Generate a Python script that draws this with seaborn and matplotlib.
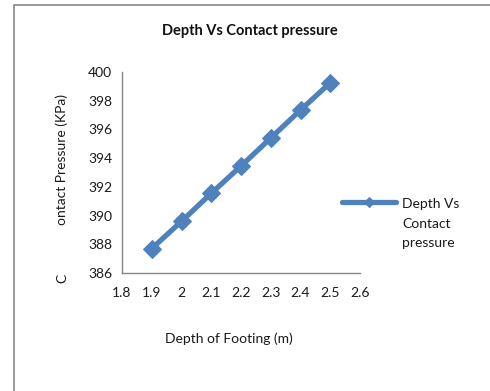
import matplotlib
matplotlib.use("Agg")
import matplotlib.pyplot as plt
import seaborn as sns
import pandas as pd
from matplotlib.legend_handler import HandlerLine2D
from matplotlib.patches import Rectangle

depth = [1.9, 2.0, 2.1, 2.2, 2.3, 2.4, 2.5]
pressure = [387.7, 389.6, 391.55, 393.45, 395.4, 397.35, 399.25]
x_ticks = [1.8, 1.9, 2.0, 2.1, 2.2, 2.3, 2.4, 2.5, 2.6]
x_tick_labels = ["1.8", "1.9", "2", "2.1", "2.2", "2.3", "2.4", "2.5", "2.6"]
y_ticks = [386, 388, 390, 392, 394, 396, 398, 400]

sns.set_style("white")
plt.rcParams['font.family'] = ['Lato', 'DejaVu Sans']

df = pd.DataFrame({"Depth": depth, "Pressure": pressure})

fig = plt.figure(figsize=(4.9, 3.91), dpi=100)
W, H = 490, 391
ax = fig.add_axes([122 / W, 1 - 273 / H, (360 - 122) / W, (273 - 72) / H])

color = "#4F81BD"
sns.lineplot(data=df, x="Depth", y="Pressure", ax=ax, color=color, lw=3.8,
             marker="D", markersize=9.5, markeredgecolor=color,
             label="Depth Vs\nContact\npressure", legend=False)

ax.set_xlim(1.8, 2.6)
ax.set_ylim(386, 400)
ax.set_xticks(x_ticks)
ax.set_xticklabels(x_tick_labels)
ax.set_yticks(y_ticks)
ax.set_xlabel("")
ax.set_ylabel("")
for s in ["top", "right"]:
    ax.spines[s].set_visible(False)
for s in ["left", "bottom"]:
    ax.spines[s].set_color("#868686")
    ax.spines[s].set_linewidth(1.0)
ax.tick_params(axis="both", which="major", direction="out", length=4, width=1,
               color="#868686", labelsize=10, labelcolor="#1a1a1a", pad=3)
ax.tick_params(axis="x", pad=6)

fs = 10
# Title and labels
fig.text(250 / W, 1 - 31 / H, "Depth Vs Contact pressure", ha="center", va="center",
         fontsize=10.5, fontweight="bold", color="#111111")
fig.text(229 / W, 1 - 339 / H, "Depth of Footing (m)", ha="center", va="center",
         fontsize=fs, color="#1a1a1a")
fig.text(62 / W, 1 - 160 / H, "ontact Pressure (KPa)", ha="center", va="center",
         rotation=90, fontsize=fs, color="#1a1a1a")
fig.text(62 / W, 1 - 278 / H, "C", ha="center", va="center",
         rotation=90, fontsize=fs, color="#1a1a1a")


class TopHandler(HandlerLine2D):
    def create_artists(self, legend, orig_handle, xdescent, ydescent,
                       width, height, fontsize, trans):
        arts = super().create_artists(legend, orig_handle, xdescent,
                                      ydescent - 31, width, height, fontsize, trans)
        return arts


handles, labels = ax.get_legend_handles_labels()
leg = fig.legend(handles, labels, loc="upper left",
                 bbox_to_anchor=(342 / W, 1 - 198 / H), frameon=False,
                 fontsize=fs, handlelength=3.9, handletextpad=0.45,
                 borderaxespad=0, borderpad=0,
                 handler_map={handles[0]: TopHandler()})
for t in leg.get_texts():
    t.set_linespacing(1.75)
    t.set_color("#1a1a1a")
for h in leg.legend_handles:
    h.set_markersize(5)

# Chart border
fig.patches.append(Rectangle((14 / W, -0.01), 1.0, 1 - 5 / H + 0.01,
                             transform=fig.transFigure, fill=False,
                             edgecolor="#888888", lw=1.2))

fig.savefig("out.png", dpi=100)
